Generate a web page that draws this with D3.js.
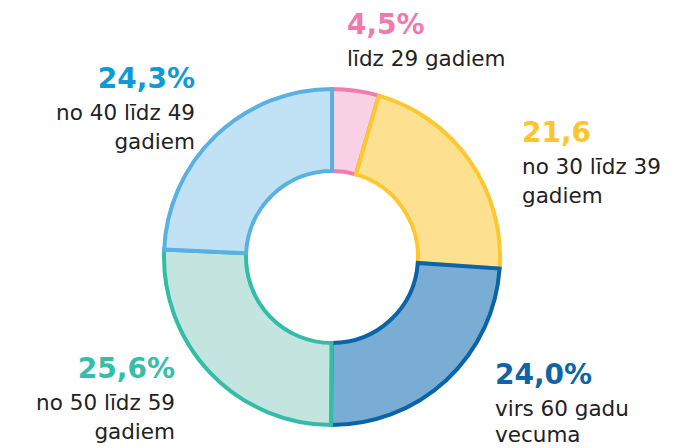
<!DOCTYPE html>
<html><head><meta charset="utf-8">
<script src="https://cdn.jsdelivr.net/npm/d3@7"></script>
<style>html,body{margin:0;padding:0;background:#fff}</style>
</head><body>
<svg id="c" width="677" height="448"></svg>
<script>
const categories = ["līdz 29 gadiem","no 30 līdz 39 gadiem","virs 60 gadu vecuma","no 50 līdz 59 gadiem","no 40 līdz 49 gadiem"];
const values = [4.5, 21.6, 24.0, 25.6, 24.3];
const valueLabels = ["4,5%","21,6","24,0%","25,6%","24,3%"];
const labelLines = [["līdz 29 gadiem"],["no 30 līdz 39","gadiem"],["virs 60 gadu","vecuma"],["no 50 līdz 59","gadiem"],["no 40 līdz 49","gadiem"]];
const strokeColors = ["#f07cb0","#fdc72e","#0b64a8","#34bda6","#58b0e3"];
const fillColors = ["#f8d2e4","#fde090","#79add4","#c4e5df","#c1e2f4"];
const labelColors = ["#ef7bad","#fcc52e","#0f64a8","#35bea8","#0f9ad6"];

const svg = d3.select("#c");
const cx = 332, cy = 257, R = 168, r = 86;
const pie = d3.pie().sort(null).value(d => d)(values);
const arc = d3.arc().innerRadius(r).outerRadius(R);
const g = svg.append("g").attr("transform", `translate(${cx},${cy})`);
g.selectAll("path").data(pie).join("path")
  .attr("d", arc)
  .attr("fill", (d,i) => fillColors[i])
  .attr("stroke", (d,i) => strokeColors[i])
  .attr("stroke-width", 4)
  .attr("stroke-linejoin", "miter");

const font = "'DejaVu Sans', sans-serif";
// label anchor positions: [x, baseline y of value, anchor]
const pos = [[347, 34, "start"],[522, 142, "start"],[495, 384, "start"],[175, 378, "end"],[195, 88, "end"]];
pos.forEach((p, i) => {
  const t = svg.append("g");
  t.append("text").attr("x", p[0]).attr("y", p[1]).attr("text-anchor", p[2])
    .attr("font-family", font).attr("font-weight", 700).attr("font-size", 28)
    .attr("fill", labelColors[i]).text(valueLabels[i]);
  labelLines[i].forEach((ln, j) => {
    t.append("text").attr("x", p[0]).attr("y", Math.min(p[1] + 32 + j * 29, 442)).attr("text-anchor", p[2])
      .attr("font-family", font).attr("font-size", 21.5).attr("fill", "#222")
      .text(ln);
  });
});
</script>
</body></html>
